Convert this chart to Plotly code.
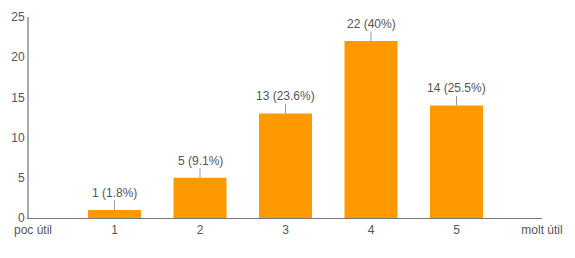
import plotly.graph_objects as go

categories = [1, 2, 3, 4, 5]
counts = [1, 5, 13, 22, 14]
percents = ["1.8%", "9.1%", "23.6%", "40%", "25.5%"]
tick_vals = [1, 2, 3, 4, 5, 6]
tick_text = ["1", "2", "3", "4", "5", "molt útil"]
low_label = "poc útil"
y_ticks = [0, 5, 10, 15, 20, 25]

FONT = "Liberation Sans, Arial, sans-serif"
TXT = "#555555"

fig = go.Figure()
fig.add_trace(go.Bar(
    x=categories, y=counts, width=0.62,
    marker=dict(color="#FF9900", line=dict(width=0)),
    hoverinfo="skip",
))

for c, v, p in zip(categories, counts, percents):
    fig.add_annotation(
        x=c, y=v, xref="x", yref="y",
        text=f"{v} ({p})", showarrow=True, arrowhead=0,
        arrowwidth=1, arrowcolor="#999999", ax=0, ay=-17,
        font=dict(family=FONT, size=12, color=TXT),
        borderpad=0,
    )

fig.add_annotation(
    x=0, y=0, xref="x", yref="y", xanchor="center", yanchor="top",
    text=low_label, showarrow=False, xshift=4, yshift=-4, borderpad=0,
    font=dict(family=FONT, size=12, color=TXT),
)

fig.add_annotation(
    x=(456 - 29) / (575 - 29 - 33), y=-0.183, xref="paper", yref="paper",
    xanchor="left", yanchor="top",
    text="<b>Figura 15: Gràfic</b>", showarrow=False,
    font=dict(family=FONT, size=12, color="#222222"),
)

fig.update_layout(
    width=575, height=258,
    margin=dict(l=29, r=33, t=10, b=40),
    paper_bgcolor="white", plot_bgcolor="white",
    showlegend=False,
    font=dict(family=FONT, size=12, color=TXT),
    xaxis=dict(
        range=[0, 6], tickmode="array", tickvals=tick_vals, ticktext=tick_text,
        showgrid=False, zeroline=False, showline=True, linecolor="#777777",
        linewidth=1, ticks="", ticklen=0, ticklabelstandoff=1,
        tickfont=dict(family=FONT, size=12, color=TXT),
    ),
    yaxis=dict(
        range=[0, 25], tickmode="array", tickvals=y_ticks,
        showgrid=False, zeroline=False, showline=True, linecolor="#aaaaaa",
        linewidth=2, ticks="", ticklen=0,
        tickfont=dict(family=FONT, size=12, color=TXT),
    ),
    bargap=0.38,
)

fig.write_html("out.html")
